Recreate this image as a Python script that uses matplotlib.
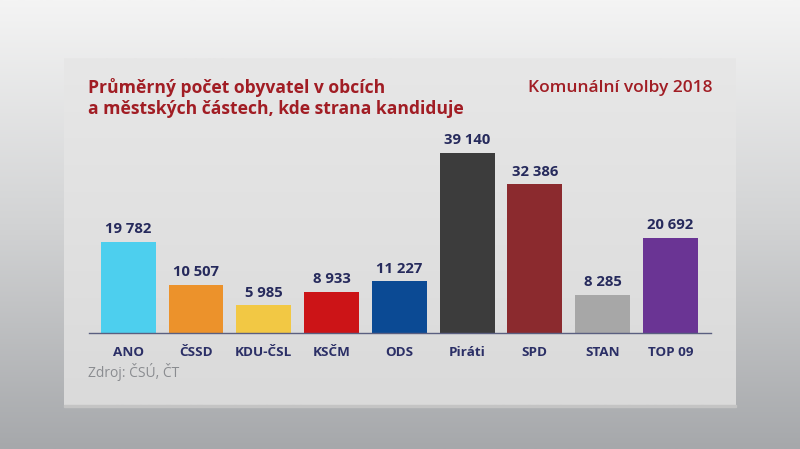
import numpy as np
import matplotlib
matplotlib.use("Agg")
import matplotlib.pyplot as plt
from matplotlib.patches import Rectangle

# -------- Data --------
parties = ["ANO", "ČSSD", "KDU-ČSL", "KSČM", "ODS", "Piráti", "SPD", "STAN", "TOP 09"]
avg_population = [19782, 10507, 5985, 8933, 11227, 39140, 32386, 8285, 20692]
bar_colors = ["#4dcfee", "#ec922b", "#f2c844", "#cc1417", "#0b4a94",
              "#3c3c3c", "#8b2a2e", "#a7a7a7", "#6a3494"]

title = "Průměrný počet obyvatel v obcích\na městských částech, kde strana kandiduje"
subtitle = "Komunální volby 2018"
source = "Zdroj: ČSÚ, ČT"

plt.rcParams['font.family'] = ['Open Sans', 'DejaVu Sans']

W, H = 800, 449
fig = plt.figure(figsize=(W / 100, H / 100), dpi=100)

# -------- Background (studio gradient + panel) --------
bg = fig.add_axes([0, 0, 1, 1], zorder=-10)
grad = np.linspace(0, 1, 256).reshape(-1, 1)
bg.imshow(grad, aspect="auto", cmap=matplotlib.colors.LinearSegmentedColormap.from_list(
    "bg", ["#f4f4f4", "#d2d3d4", "#a6a8ab"]), extent=[0, W, H, 0])
panel_grad = np.linspace(0, 1, 256).reshape(-1, 1)
bg.imshow(panel_grad, aspect="auto", cmap=matplotlib.colors.LinearSegmentedColormap.from_list(
    "panel", ["#e7e7e7", "#dadada"]), extent=[64, 736, 405, 58])
bg.add_patch(Rectangle((64, 405), 672, 1.5, color="#c4c4c4"))
bg.set_xlim(0, W)
bg.set_ylim(H, 0)
bg.axis("off")

# -------- Bars --------
ax = fig.add_axes([89 / W, (H - 333) / H, 622 / W, 200 / H])
ax.patch.set_alpha(0)
x = np.arange(len(parties))
ax.bar(x, avg_population, width=0.81, color=bar_colors, zorder=2)
for i, v in enumerate(avg_population):
    ax.annotate(f"{v:,}".replace(",", " "), (i, v), xytext=(0, 4),
                textcoords="offset points", ha="center", va="bottom",
                fontsize=10.7, fontweight="bold", color="#262a5c")

ax.set_xlim(-0.58, 8.6)
ax.set_ylim(0, 43500)
ax.set_xticks(x)
ax.set_xticklabels(parties, fontsize=9.7, fontweight="bold", color="#2b2f66")
ax.tick_params(axis="x", length=0, pad=9)
ax.set_yticks([])
for s in ["top", "right", "left"]:
    ax.spines[s].set_visible(False)
ax.spines["bottom"].set_color("#5a5f80")
ax.spines["bottom"].set_linewidth(1.0)

# -------- Texts --------
fig.text(88 / W, 1 - 78 / H, title, ha="left", va="top", fontsize=12.6,
         fontweight="bold", color="#a11d24", linespacing=1.25)
fig.text(712 / W, 1 - 88 / H, subtitle, ha="right", va="center", fontsize=12.5,
         fontweight="semibold", color="#a11d24")
fig.text(88 / W, 1 - 372 / H, source, ha="left", va="center", fontsize=10,
         color="#8a8c90")

fig.savefig("out.png", dpi=100)
